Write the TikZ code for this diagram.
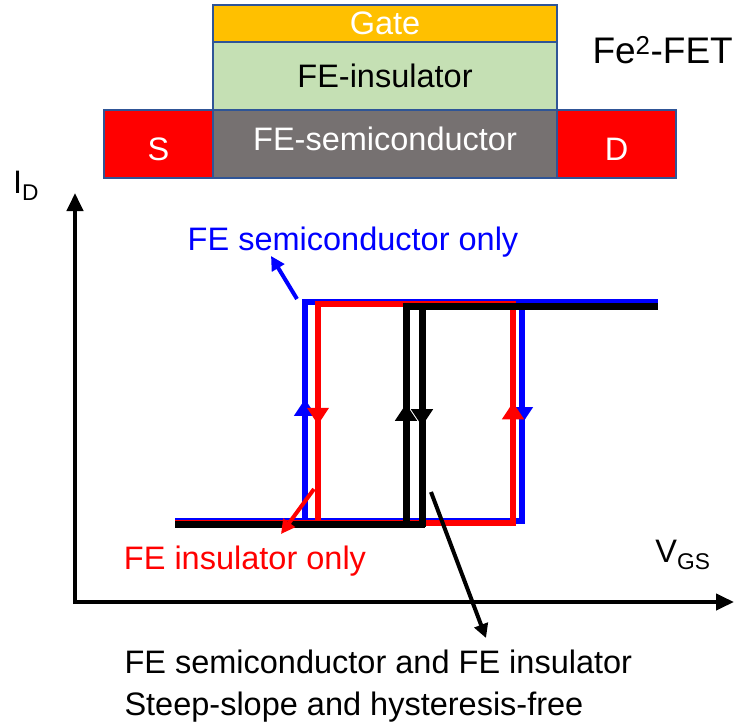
\documentclass[tikz,border=0pt]{standalone}
\usepackage{fontspec}
\setmainfont{Liberation Sans}
\usetikzlibrary{arrows.meta,decorations.markings}
\definecolor{gateorange}{HTML}{FFC000}
\definecolor{insgreen}{HTML}{C5E0B4}
\definecolor{semigrey}{HTML}{767171}
\definecolor{edgeblue}{HTML}{2F5597}
\tikzset{
  layer/.style={draw=edgeblue,line width=2pt,outer sep=0pt,inner sep=0pt,text=white},
  loop/.style={line width=6pt},
  upmark/.style={postaction={decorate,decoration={markings,
    mark=at position 0.55 with {\arrow{Triangle[width=21pt,length=17pt]}}}}},
  pointer/.style={line width=4pt,-{Triangle[width=14pt,length=14pt]}},
  big/.style={font=\fontsize{32.5}{42}\selectfont}
}
\begin{document}
\begin{tikzpicture}[x=1pt,y=-1pt]
\useasboundingbox (0,0) rectangle (734,728);
% device stack
\node[layer,fill=gateorange,minimum width=344pt,minimum height=37pt,big] (gate) at (385,23.5) {Gate};
\node[layer,fill=insgreen,text=black,minimum width=344pt,minimum height=68pt,big] (ins) at (385,76) {FE-insulator};
\node[layer,fill=semigrey,minimum width=344pt,minimum height=68pt] (semi) at (385,144) {};
\node[big,text=white] (semitext) at (385,139) {FE-semiconductor};
\node[layer,fill=red,minimum width=109pt,minimum height=68pt] (src) at (158.5,144) {};
\node[big,text=white] (srctext) at (158.5,149) {S};
\node[layer,fill=red,minimum width=119pt,minimum height=68pt] (drn) at (616.5,144) {};
\node[big,text=white] (drntext) at (616.5,149) {D};
\node[anchor=east,inner sep=0pt,font=\fontsize{37}{42}\selectfont] (fet) at (733,50) {Fe\textsuperscript{2}-FET};

% axes
\coordinate (origin) at (75,602);
\coordinate (ytop) at (75,193);
\coordinate (xend) at (734,602);
\draw[line width=4pt,-{Triangle[width=16pt,length=18pt]}] ([yshift=-2pt]origin) -- (ytop);
\draw[line width=4pt,-{Triangle[width=16pt,length=18pt]}] ([xshift=-2pt]origin) -- (xend);
\node[big] (ylab) at (26,186) {I\textsubscript{D}};
\node[big] (xlab) at (683,555) {V\textsubscript{GS}};

% FE semiconductor only
\draw[loop,blue] (175,521) -- (525,521);
\draw[loop,blue] (302,302) -- (658,302);
\draw[loop,blue,upmark] (305,521) -- (305,299);
\draw[loop,blue,upmark] (522,302) -- (522,524);
% FE insulator only
\draw[loop,red] (175,523) -- (516,523);
\draw[loop,red] (315,304) -- (516,304);
\draw[loop,red,upmark] (513,526) -- (513,301);
\draw[loop,red,upmark] (318,301) -- (318,526);
% both
\draw[loop,black,line width=7pt] (175,524) -- (425,524);
\draw[loop,black,line width=7pt] (403,306) -- (658,306);
\draw[loop,black,line width=7pt,upmark] (406,527) -- (406,303);
\draw[loop,black,line width=7pt,upmark] (422,303) -- (422,527);

% labels
\node[big,text=blue] (semionly) at (353,242) {FE semiconductor only};
\node[big,text=red] (insonly) at (245,561) {FE insulator only};
\node[big,anchor=west,align=left] (bothtext) at (121,686) {FE semiconductor and FE insulator\\Steep-slope and hysteresis-free};

\coordinate (bluefoot) at (297,299);
\coordinate (bluetip) at (271,256);
\coordinate (redfoot) at (314,489);
\coordinate (redtip) at (281,534);
\coordinate (blackfoot) at (431,492);
\coordinate (blacktip) at (486,638);
\draw[pointer,blue] (bluefoot) -- (bluetip);
\draw[pointer,red] (redfoot) -- (redtip);
\draw[pointer,black] (blackfoot) -- (blacktip);
\end{tikzpicture}
\end{document}
